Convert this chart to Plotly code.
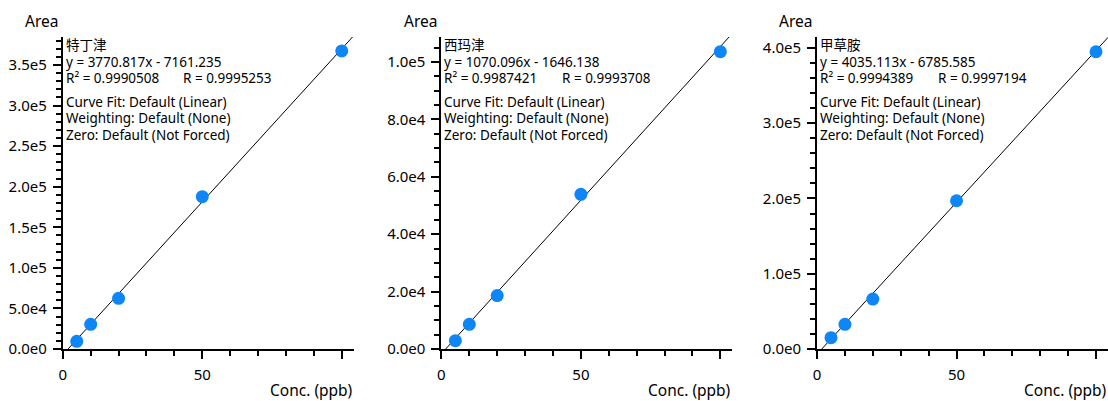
import plotly.graph_objects as go

# ---------------- data ----------------
names = ["特丁津", "西玛津", "甲草胺"]
conc = [5, 10, 20, 50, 100]
area_1 = [9.5e3, 30.4e3, 62.5e3, 187.7e3, 367.3e3]
area_2 = [2.9e3, 8.6e3, 18.6e3, 53.9e3, 103.6e3]
area_3 = [15.0e3, 32.8e3, 66.4e3, 197.0e3, 395.0e3]
slopes = [3770.817, 1070.096, 4035.113]
intercepts = [-7161.235, -1646.138, -6785.585]
eq_text = ["y = 3770.817x - 7161.235", "y = 1070.096x - 1646.138", "y = 4035.113x - 6785.585"]
r2_text = ["R² = 0.9990508", "R² = 0.9987421", "R² = 0.9994389"]
r_text = ["R = 0.9995253", "R = 0.9993708", "R = 0.9997194"]
info_lines = ["Curve Fit: Default (Linear)", "Weighting: Default (None)", "Zero: Default (Not Forced)"]

y_tickvals = [
    [0, 5e4, 1e5, 1.5e5, 2e5, 2.5e5, 3e5, 3.5e5],
    [0, 2e4, 4e4, 6e4, 8e4, 1e5],
    [0, 1e5, 2e5, 3e5, 4e5],
]
y_ticktext = [
    ["0.0e0", "5.0e4", "1.0e5", "1.5e5", "2.0e5", "2.5e5", "3.0e5", "3.5e5"],
    ["0.0e0", "2.0e4", "4.0e4", "6.0e4", "8.0e4", "1.0e5"],
    ["0.0e0", "1.0e5", "2.0e5", "3.0e5", "4.0e5"],
]
y_minor_dtick = [1e4, 5e3, 2e4]
y_max = [384.5e3, 108.7e3, 414.6e3]
x_tickvals = [0, 50, 100]
x_ticktext = ["0", "50", ""]
x_max = 104.3

areas = [area_1, area_2, area_3]

# ---------------- layout helpers ----------------
W, H = 1108, 401
top, bottom = 37, 349
plot_h = bottom - top
left_px = [59, 439, 816]
plot_w = 292

FONT = "Noto Sans, Noto Sans CJK SC, sans-serif"
BLUE = "#0f86f5"

def px_x(px):
    return px / W

def px_y(py):
    return (bottom - py) / plot_h

fig = go.Figure()
annotations = []

for i in range(3):
    ax = "" if i == 0 else str(i + 1)
    xa = "x" + ax
    ya = "y" + ax
    # fit line
    xs = [0, x_max]
    ys = [slopes[i] * x + intercepts[i] for x in xs]
    fig.add_trace(go.Scatter(x=xs, y=ys, mode="lines", xaxis=xa, yaxis=ya,
                             line=dict(color="black", width=1), showlegend=False,
                             hoverinfo="skip"))
    fig.add_trace(go.Scatter(x=conc, y=areas[i], mode="markers", xaxis=xa, yaxis=ya,
                             marker=dict(color=BLUE, size=13, line=dict(width=0)),
                             showlegend=False, cliponaxis=False))

    axis_common = dict(showline=True, linecolor="black", linewidth=2,
                       ticks="outside", ticklen=8, tickwidth=2, tickcolor="black",
                       showgrid=False, zeroline=False, ticklabelstandoff=3,
                       tickfont=dict(family=FONT, size=15, color="black"))
    x_dom = [left_px[i] / W, (left_px[i] + plot_w) / W]
    fig.layout["xaxis" + ax] = dict(
        domain=x_dom, range=[0, x_max], anchor=ya,
        tickmode="array", tickvals=x_tickvals, ticktext=x_ticktext,
        minor=dict(tickmode="linear", tick0=0, dtick=10, ticks="outside",
                   ticklen=5, tickwidth=2, tickcolor="black"),
        **axis_common)
    fig.layout["yaxis" + ax] = dict(
        domain=[0, 1], range=[0, y_max[i]], anchor=xa,
        tickmode="array", tickvals=y_tickvals[i], ticktext=y_ticktext[i],
        minor=dict(tickmode="linear", tick0=0, dtick=y_minor_dtick[i], ticks="outside",
                   ticklen=5, tickwidth=2, tickcolor="black"),
        **axis_common)

    lx = left_px[i]
    # axis titles
    annotations.append(dict(text="Area", x=px_x(lx - 40), y=px_y(21), xref="paper", yref="paper",
                            xanchor="left", yanchor="middle", showarrow=False,
                            font=dict(family=FONT, size=15.5, color="black")))
    annotations.append(dict(text="Conc. (ppb)", x=px_x(lx + plot_w + 1), y=px_y(390), xref="paper",
                            yref="paper", xanchor="right", yanchor="middle", showarrow=False,
                            font=dict(family=FONT, size=15.5, color="black")))
    # info text
    tf = dict(family=FONT, size=13.5, color="black")
    rows = [(names[i], 45), (eq_text[i], 62), (r2_text[i], 78),
            (info_lines[0], 102), (info_lines[1], 118), (info_lines[2], 135)]
    for txt, py in rows:
        annotations.append(dict(text=txt, x=px_x(lx + 1), y=px_y(py), xref="paper", yref="paper",
                                xanchor="left", yanchor="middle", showarrow=False, font=tf))
    annotations.append(dict(text=r_text[i], x=px_x(lx + 119), y=px_y(78), xref="paper", yref="paper",
                            xanchor="left", yanchor="middle", showarrow=False, font=tf))

fig.update_layout(width=W, height=H, margin=dict(l=0, r=0, t=top, b=H - bottom),
                  paper_bgcolor="white", plot_bgcolor="white",
                  annotations=annotations, font=dict(family=FONT))

fig.write_html("out.html")
